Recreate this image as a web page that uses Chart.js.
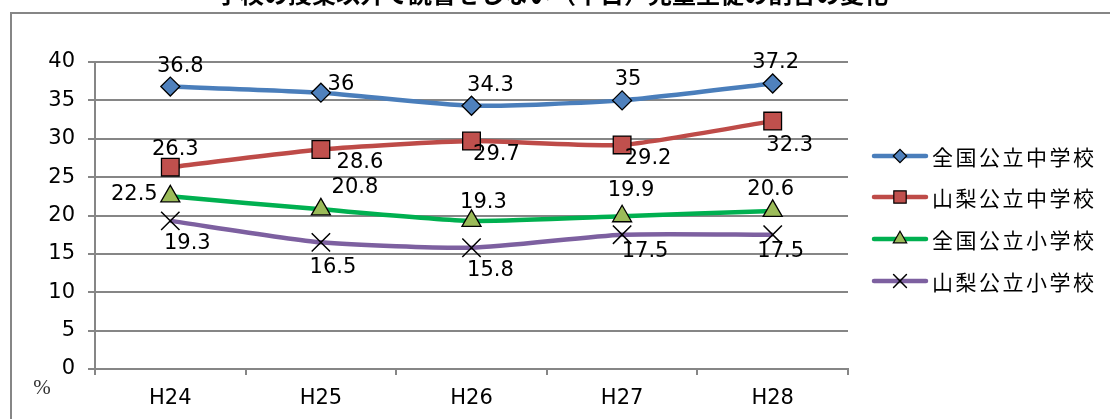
<!DOCTYPE html>
<html>
<head>
<meta charset="utf-8">
<script src="https://cdn.jsdelivr.net/npm/chart.js@4/dist/chart.umd.min.js"></script>
<style>
  html, body { margin: 0; padding: 0; background: #fff; }
  #wrap { width: 1110px; height: 419px; position: relative; }
</style>
</head>
<body>
<div id="wrap"><canvas id="c" width="1110" height="419"></canvas></div>
<script>
const titleText = "学校の授業以外で読書をしない（平日）児童生徒の割合の変化";
const categories = ["H24", "H25", "H26", "H27", "H28"];
const seriesNames = ["全国公立中学校", "山梨公立中学校", "全国公立小学校", "山梨公立小学校"];
const zenkokuChu = [36.8, 36, 34.3, 35, 37.2];
const yamanashiChu = [26.3, 28.6, 29.7, 29.2, 32.3];
const zenkokuSho = [22.5, 20.8, 19.3, 19.9, 20.6];
const yamanashiSho = [19.3, 16.5, 15.8, 17.5, 17.5];
const yTicks = [0, 5, 10, 15, 20, 25, 30, 35, 40];
const unitLabel = "%";

// label placement offsets (label centre relative to point), styling only
const labelOffsets = [
  [[10,-20],[20,-8],[19,-20],[6,-21],[3,-21]],
  [[5,-18],[39,13],[25,13],[26,14],[17,24]],
  [[-36,-2],[34,-22],[12,-18],[9,-26],[-2,-21]],
  [[17,23],[12,25],[19,23],[23,17],[8,17]]
];

const styles = [
  { line: "#4A7EBB", fill: "#4F81BD", point: "rectRot", radius: 9.5 },
  { line: "#BE4B48", fill: "#C0504D", point: "rect", radius: 12.5 },
  { line: "#00B050", fill: "#9BBB59", point: "triangle", radius: 11 },
  { line: "#7D60A0", fill: "#000000", point: "crossRot", radius: 13 }
];
const values = [zenkokuChu, yamanashiChu, zenkokuSho, yamanashiSho];
const numFont = "'DejaVu Sans'";

const datasets = values.map((v, i) => ({
  label: seriesNames[i],
  data: v,
  borderColor: styles[i].line,
  borderWidth: 4.5,
  tension: 0.2,
  pointStyle: styles[i].point,
  pointRadius: styles[i].radius,
  pointHoverRadius: styles[i].radius,
  pointBackgroundColor: styles[i].fill,
  pointBorderColor: "#000",
  pointBorderWidth: styles[i].point === "crossRot" ? 1.5 : 1.3,
  order: i
}));

const framePlugin = {
  id: "frame",
  beforeDraw(chart) {
    const ctx = chart.ctx;
    ctx.save();
    ctx.fillStyle = "#fff";
    ctx.fillRect(0, 0, chart.width, chart.height);
    ctx.strokeStyle = "#868686";
    ctx.lineWidth = 2;
    ctx.strokeRect(11, 13, 1200, 500);
    ctx.fillStyle = "#000";
    ctx.font = "bold 24px 'Noto Sans CJK JP'";
    ctx.textAlign = "center";
    ctx.textBaseline = "alphabetic";
    ctx.fillText(titleText, 552, 3);
    ctx.fillStyle = "#333";
    ctx.font = "21px 'Liberation Serif'";
    ctx.textBaseline = "middle";
    ctx.fillText(unitLabel, 42, 388);
    ctx.restore();
  }
};

const labelPlugin = {
  id: "pointLabels",
  afterDatasetsDraw(chart) {
    const ctx = chart.ctx;
    ctx.save();
    ctx.font = "21px " + numFont;
    ctx.fillStyle = "#000";
    ctx.textAlign = "center";
    ctx.textBaseline = "middle";
    chart.data.datasets.forEach((ds, di) => {
      const meta = chart.getDatasetMeta(di);
      meta.data.forEach((pt, i) => {
        const off = labelOffsets[di][i];
        ctx.fillText(String(ds.data[i]), pt.x + off[0], pt.y + off[1]);
      });
    });
    ctx.restore();
  }
};

const legendPlugin = {
  id: "customLegend",
  afterDraw(chart) {
    const ctx = chart.ctx;
    const ys = [156, 197, 239, 281];
    ctx.save();
    chart.data.datasets.forEach((ds, i) => {
      const y = ys[i];
      const st = styles[i];
      ctx.strokeStyle = ds.borderColor;
      ctx.lineWidth = 4.5;
      ctx.lineCap = "round";
      ctx.beginPath();
      ctx.moveTo(874, y);
      ctx.lineTo(926, y);
      ctx.stroke();
      ctx.fillStyle = st.fill;
      ctx.strokeStyle = "#000";
      ctx.lineWidth = st.point === "crossRot" ? 1.5 : 1.2;
      Chart.helpers.drawPoint(ctx, { pointStyle: st.point, rotation: 0, radius: st.radius * 0.7, borderWidth: ctx.lineWidth }, 900, y);
      ctx.fillStyle = "#000";
      ctx.font = "21px 'Noto Sans CJK JP'";
      ctx.textAlign = "left";
      ctx.textBaseline = "middle";
      try { ctx.letterSpacing = "2.5px"; } catch (e) {}
      ctx.fillText(ds.label, 932, y + 1);
      try { ctx.letterSpacing = "0px"; } catch (e) {}
    });
    ctx.restore();
  }
};

new Chart(document.getElementById("c"), {
  type: "line",
  data: { labels: categories, datasets },
  plugins: [framePlugin, labelPlugin, legendPlugin],
  options: {
    responsive: false,
    animation: false,
    events: [],
    layout: { padding: { left: 0, top: 62, right: 262, bottom: 0 } },
    plugins: { legend: { display: false }, title: { display: false }, tooltip: { enabled: false } },
    scales: {
      x: {
        offset: true,
        afterFit(scale) { scale.height = 50; },
        grid: { offset: true, drawOnChartArea: false, drawTicks: true, tickLength: 6, color: "#868686", lineWidth: 2 },
        border: { color: "#868686", width: 2 },
        ticks: { color: "#000", font: { family: numFont, size: 21 }, padding: 11, maxRotation: 0 }
      },
      y: {
        min: 0, max: 40,
        afterFit(scale) { scale.width = 95; },
        afterBuildTicks(scale) { scale.ticks = yTicks.map(v => ({ value: v })); },
        grid: { color: "#868686", lineWidth: 2, tickLength: 7 },
        border: { color: "#868686", width: 2 },
        ticks: { color: "#000", font: { family: numFont, size: 21 }, padding: 13 }
      }
    }
  }
});
</script>
</body>
</html>
